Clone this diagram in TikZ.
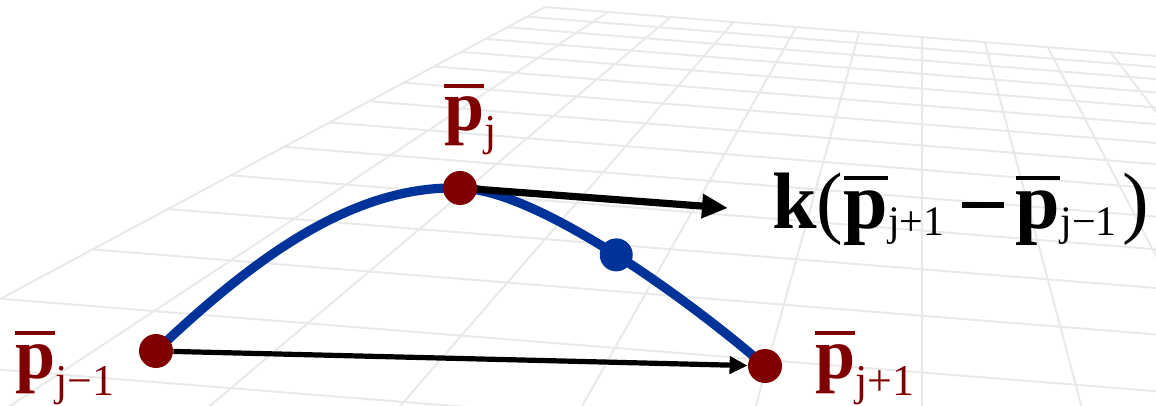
\documentclass[tikz,border=0pt]{standalone}
\usepackage{fontspec}
\setmainfont{Liberation Serif}
\usetikzlibrary{arrows.meta}
\definecolor{dotred}{RGB}{128,0,0}
\definecolor{curveblue}{RGB}{0,51,153}
\definecolor{gridgray}{RGB}{233,233,233}
\newcommand\pbar{\setbox0\hbox{\bfseries p}\vbox{\hrule height 0.05em width \wd0\kern0.13em\box0}}
\newcommand\subtxt[3]{\raisebox{#2}{\fontsize{#1}{#1}\selectfont\mdseries #3}}
\newcommand\bminus{\rule[0.25em]{0.52em}{0.075em}}
\def\gVx{922}\def\gVy{-195}\def\gc{0.9968}\def\gs{0.0797}\def\gk{0.2724}\def\gK{5091}\def\gmz{-5.706}
\begin{document}
\begin{tikzpicture}[x=0.5pt,y=-0.5pt,
  gridline/.style={draw=gridgray, line width=1pt},
  curveline/.style={draw=curveblue, line width=4.6pt},
  reddot/.style={circle, fill=dotred, inner sep=0pt, minimum size=17pt},
  bluedot/.style={circle, fill=curveblue, inner sep=0pt, minimum size=16.5pt},
  arrowA/.style={draw=black, line width=3.6pt, -{Triangle[length=13pt,width=11.5pt]}},
  arrowB/.style={draw=black, line width=2.6pt, -{Triangle[length=9pt,width=8.5pt]}},
  lbl/.style={text=dotred, inner sep=0pt, font=\fontsize{36}{38}\selectfont},
  ktext/.style={text=black, inner sep=0pt, font=\fontsize{40}{42}\selectfont}]
\useasboundingbox (0,0) rectangle (1156,406);
\begin{scope}
\clip (0,0) rectangle (1156,406);
\foreach \rr in {6,...,22}{
  \pgfmathsetmacro\yp{\gK/\rr}
  \pgfmathsetmacro\xa{\gk*\gmz*\yp}
  \pgfmathsetmacro\xb{\gk*5*\yp}
  \draw[gridline] ({\gVx+\xa*\gc-\yp*\gs},{\gVy+\xa*\gs+\yp*\gc}) -- ({\gVx+\xb*\gc-\yp*\gs},{\gVy+\xb*\gs+\yp*\gc});
}
\foreach \ci in {0,...,10}{
  \pgfmathsetmacro\mm{\gmz+\ci}
  \pgfmathsetmacro\ya{\gK/22}
  \pgfmathsetmacro\yb{\gK/5}
  \pgfmathsetmacro\xa{\gk*\mm*\ya}
  \pgfmathsetmacro\xb{\gk*\mm*\yb}
  \draw[gridline] ({\gVx+\xa*\gc-\ya*\gs},{\gVy+\xa*\gs+\ya*\gc}) -- ({\gVx+\xb*\gc-\yb*\gs},{\gVy+\xb*\gs+\yb*\gc});
}
\end{scope}
% point positions
\coordinate (pA) at (156,351);
\coordinate (pB) at (460,188);
\coordinate (pC) at (765,366);
\coordinate (t1) at (728,208);
% blue curve
\draw[curveline] (pA) .. controls (250,262) and (350,185) .. (pB)
  .. controls (540,190) and (695,305) .. (pC);
% arrows
\node[reddot] (A) at (pA) {};
\node[reddot] (C) at (pC) {};
\draw[arrowB] (A) -- (C);
\draw[arrowA] (pB) -- (t1);
\node[reddot] (B) at (pB) {};
\path (pB) .. controls (540,190) and (695,305) .. (pC) node[pos=0.5, bluedot] (D) {};
% labels
\node[lbl, anchor=base west] (Lj) at (444,131) {\pbar\subtxt{22pt}{-7.5pt}{j}};
\node[lbl, anchor=base west] (Ljm) at (15,378) {\pbar\subtxt{22pt}{-9pt}{j−1}};
\node[lbl, anchor=base west] (Ljp) at (815,378) {\pbar\subtxt{22pt}{-9pt}{j+1}};
\node[ktext, anchor=base west] (K) at (772,228) {\textbf{k}(\pbar\subtxt{21pt}{-3.5pt}{j+1}\hspace{9pt}\bminus\hspace{6pt}\pbar\subtxt{21pt}{-3.5pt}{j−1}\hspace{3pt})};
\end{tikzpicture}
\end{document}
